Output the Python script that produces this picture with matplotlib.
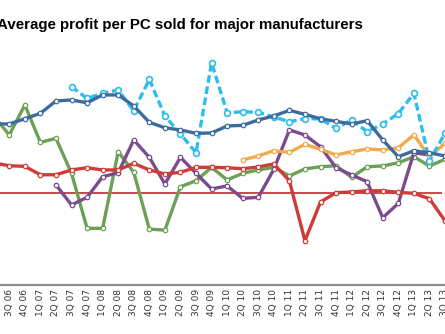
import numpy as np
import matplotlib.pyplot as plt
import matplotlib.transforms as mtransforms

# kwartały (pierwszy, 2Q 06, jest już poza kadrem po lewej)
quarters = ['2Q 06', '3Q 06', '4Q 06', '1Q 07', '2Q 07', '3Q 07', '4Q 07', '1Q 08', '2Q 08',
            '3Q 08', '4Q 08', '1Q 09', '2Q 09', '3Q 09', '4Q 09', '1Q 10', '2Q 10', '3Q 10',
            '4Q 10', '1Q 11', '2Q 11', '3Q 11', '4Q 11', '1Q 12', '2Q 12', '3Q 12', '4Q 12',
            '1Q 13', '2Q 13', '3Q 13']

N = None
dark_blue = [34.7, 34.7, 37.3, 40.0, 46.2, 46.7, 45.3, 49.2, 49.2, 43.7, 35.5, 32.8, 31.7, 30.0,
             30.2, 33.7, 34.0, 36.7, 38.7, 41.5, 39.5, 37.3, 36.0, 34.7, 36.3, 26.7, 18.3, 21.3,
             20.3, 18.7]
light_blue = [N, N, N, N, N, 53.3, 47.5, 50.0, 51.7, 41.2, 57.0, 38.7, 29.7, 20.3, 65.3, 40.3,
              40.8, 40.5, 38.2, 35.8, 37.4, 37.2, 32.5, 36.7, 30.8, 34.7, 39.9, 50.0, 16.2, 30.0]
green = [38.7, 29.2, 44.2, 25.5, 27.5, 10.0, -17.5, -17.5, 20.8, 10.5, -17.9, -18.4, 3.3, 6.3,
         13.0, 6.7, 10.0, 11.7, 13.0, 8.7, 12.2, 13.3, 13.8, 8.0, 13.3, 13.7, 15.3, 18.3, 13.7, 17.0]
red = [15.2, 13.8, 13.5, 9.3, 9.3, 11.7, 12.8, 11.7, 11.7, 15.0, 11.7, 9.7, 10.5, 13.0, 13.0,
       12.8, 12.3, 13.2, 14.7, 6.3, -23.7, -4.3, 0.3, 0.7, 1.3, 1.3, 0.5, 0.0, -2.7, -13.7]
purple = [N, N, N, N, 4.2, -5.8, -2.0, 8.3, 10.3, 26.7, 18.0, 4.7, 18.0, 10.0, 2.2, 3.7, -2.5,
          -2.0, 12.0, 31.7, 29.2, 23.3, 12.8, 9.2, 5.8, -12.2, -5.0, 20.3, 19.2, N]
orange = [N] * 16 + [16.7, 18.7, 21.3, 20.5, 24.5, 22.0, 19.2, 20.8, 22.2, 21.7, 22.8, 29.2,
                     18.3, 25.0]

x = np.arange(len(quarters))


def arr(v):
    return np.array([np.nan if a is None else a for a in v], dtype=float)


fig = plt.figure(figsize=(4.45, 3.34), dpi=100)
ax = fig.add_axes([0, 0.1467, 1, 0.7333])

solid = dict(lw=2.4, marker='o', ms=3.2, mfc='white', mew=0.9, solid_joinstyle='round')
ax.plot(x, arr(green), color='#6BA155', **solid, zorder=3)
ax.plot(x, arr(purple), color='#7B4B8E', **solid, zorder=4)
ax.plot(x, arr(red), color='#CF3B36', **solid, zorder=5)
ax.plot(x, arr(orange), color='#F0AA4C', **solid, zorder=6)
ax.plot(x, arr(light_blue), color='#2CBDF0', lw=2.4, ls=(0, (2.3, 1.1)), marker='o', ms=4.2,
        mfc='white', mew=1.2, zorder=7)
ax.plot(x, arr(dark_blue), color='#3D6B9E', **solid, zorder=8)

# linia zera
ax.hlines(0, 0, len(quarters) - 1.22, color='#B31B1B', lw=1.1, zorder=2)

ax.set_xlim(0.404, 28.93)
ax.set_ylim(-45.85, 76.65)
# etykieta 2Q 06 leży poza kadrem, więc podpisujemy od 3Q 06
ax.set_xticks(x[1:])
ax.set_xticklabels(quarters[1:], rotation=90, fontsize=6.5, color='#333333')
shift = mtransforms.ScaledTranslation(-2 / 100, 0, fig.dpi_scale_trans)
for lbl in ax.get_xticklabels():
    lbl.set_transform(lbl.get_transform() + shift)
ax.tick_params(axis='x', length=0, pad=3)
ax.set_yticks([])
for s in ['top', 'left', 'right']:
    ax.spines[s].set_visible(False)
ax.spines['bottom'].set_color('#8C8C8C')
ax.spines['bottom'].set_linewidth(1.6)

fig.text(-3 / 445, 1 - 25 / 334, 'Average profit per PC sold for major manufacturers',
         fontsize=10.8, fontweight='bold', family='Liberation Sans', va='center', ha='left')

fig.savefig('out.png', dpi=100)
